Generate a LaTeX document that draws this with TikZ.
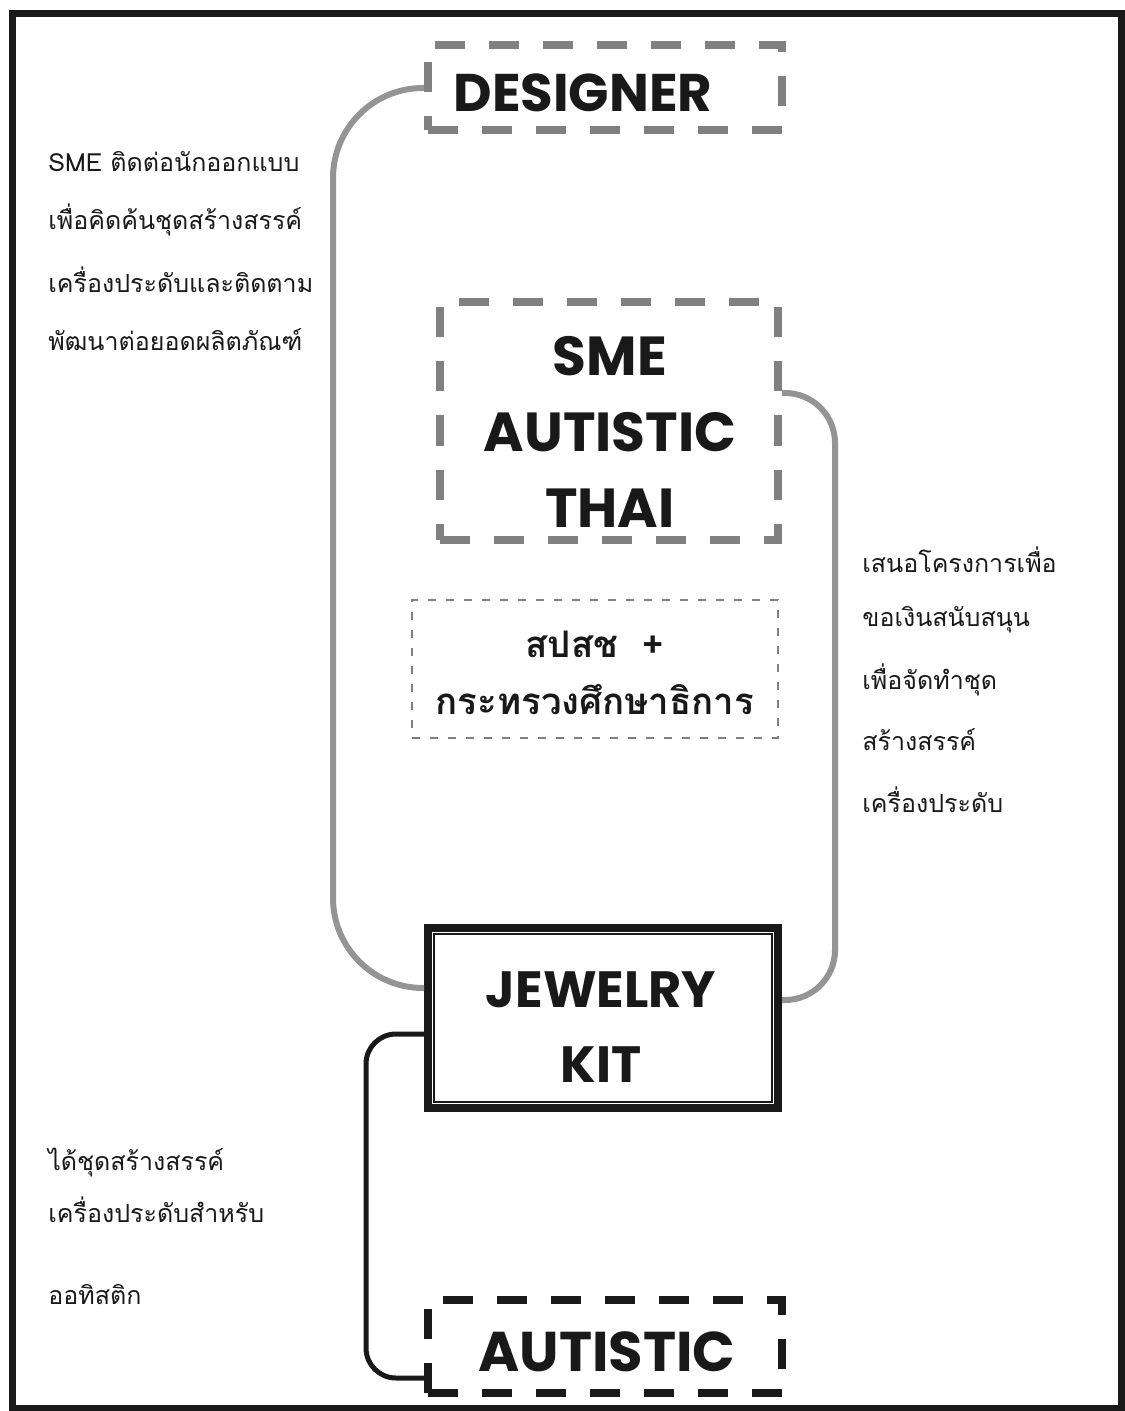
\documentclass[tikz,border=0pt]{standalone}
\usepackage{fontspec}
\setmainfont{Poppins}
\newfontfamily\thai[Script=Thai]{Loma}
\tikzset{
  graydash/.style={draw=black!50, line width=4pt, dash pattern=on 15pt off 12pt, rectangle, inner sep=0pt},
  blackdash/.style={draw=black!90, line width=4pt, dash pattern=on 15pt off 12pt, rectangle, inner sep=0pt},
  thindash/.style={draw=black!50, line width=0.6pt, dash pattern=on 4pt off 5pt, rectangle, inner sep=0pt},
  comic/.style={font=\bfseries, align=center, text=black!90, inner sep=0pt},
  thaitxt/.style={font=\thai\fontsize{12.5}{15}\selectfont, anchor=west, inner sep=0pt, text=black!90},
  thaibold/.style={font=\thai\bfseries\fontsize{18.3}{28.5}\selectfont, align=center, text=black!90, inner sep=0pt},
  graylink/.style={draw=black!42, line width=3pt, rounded corners=45pt},
  blacklink/.style={draw=black!90, line width=2.5pt, rounded corners=15pt},
}
\begin{document}
\begin{tikzpicture}[x=0.5pt,y=-0.5pt]
\useasboundingbox (0,0) rectangle (1124,1411);
\fill[white] (0,0) rectangle (1124,1411);
\draw[line width=3.5pt, black!90] (12,14) rectangle (1121,1408);

% boxes
\node[graydash, minimum width=177pt, minimum height=42.5pt] (des) at (605,88) {};
\node[comic, font=\bfseries\fontsize{26.5}{30}\selectfont] (destxt) at (583,93) {DESIGNER};

\node[graydash, minimum width=169pt, minimum height=118.5pt] (sme) at (609,421) {};
\node[comic, font=\bfseries\fontsize{27.5}{38}\selectfont] (smetxt) at (610,432) {SME\\AUTISTIC\\THAI};

\node[thindash, minimum width=183pt, minimum height=69pt] (gov) at (595,669) {};
\node[thaibold] (govtxt) at (595,673) {สปสช\ \ +\\กระทรวงศึกษาธิการ};

\node[draw=black!90, line width=4pt, rectangle, inner sep=0pt, minimum width=175pt, minimum height=90pt] (jk) at (603,1018) {};
\draw[black!90, line width=1pt] ([shift={(10,10)}]jk.north west) rectangle ([shift={(-10,-10)}]jk.south east);
\node[comic, font=\bfseries\fontsize{25.5}{37.5}\selectfont] (jktxt) at (601,1027) {JEWELRY\\KIT};

\node[blackdash, minimum width=177pt, minimum height=46.5pt] (aut) at (605,1346) {};
\node[comic, font=\bfseries\fontsize{28}{30}\selectfont] (auttxt) at (607,1352) {AUTISTIC};

% connectors
\draw[graylink] (des.west) -- (333,88) -- (333,988) -- ([shift={(0,-30)}]jk.west);
\draw[graylink, rounded corners=25pt] ([shift={(0,-28)}]sme.east) -- (835,393) -- (835,1000) -- ([shift={(0,-18)}]jk.east);
\draw[blacklink] ([shift={(0,16)}]jk.west) -- (366,1034) -- (366,1378) -- ([shift={(0,32)}]aut.west);

% texts
\node[thaitxt] (t1) at (48,162) {SME ติดต่อนักออกแบบ};
\node[thaitxt] (t2) at (48,220) {เพื่อคิดค้นชุดสร้างสรรค์};
\node[thaitxt] (t3) at (48,280) {เครื่องประดับและติดตาม};
\node[thaitxt] (t4) at (48,340) {พัฒนาต่อยอดผลิตภัณฑ์};

\node[thaitxt] (r1) at (862,560) {เสนอโครงการเพื่อ};
\node[thaitxt] (r2) at (862,620) {ขอเงินสนับสนุน};
\node[thaitxt] (r3) at (862,680) {เพื่อจัดทำชุด};
\node[thaitxt] (r4) at (862,740) {สร้างสรรค์};
\node[thaitxt] (r5) at (862,800) {เครื่องประดับ};

\node[thaitxt] (b1) at (48,1163) {ได้ชุดสร้างสรรค์};
\node[thaitxt] (b2) at (48,1210) {เครื่องประดับสำหรับ};
\node[thaitxt] (b3) at (48,1295) {ออทิสติก};
\end{tikzpicture}
\end{document}
